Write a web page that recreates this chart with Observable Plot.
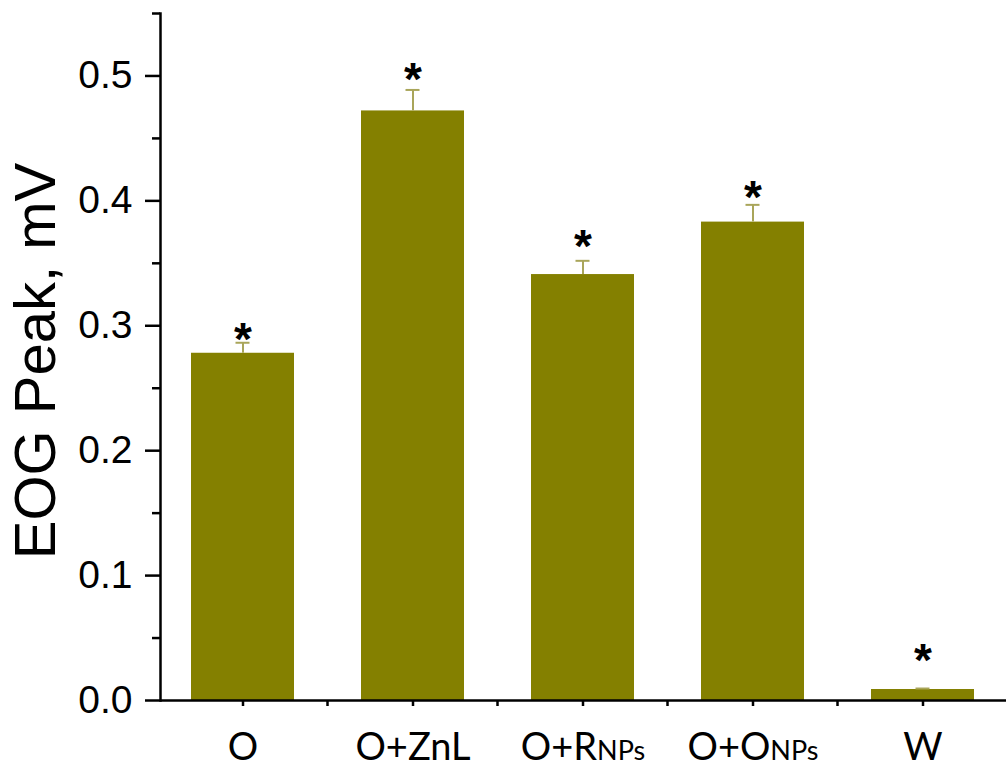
<!DOCTYPE html>
<html><head><meta charset="utf-8">
<script src="https://cdn.jsdelivr.net/npm/d3@7"></script>
<script src="https://cdn.jsdelivr.net/npm/@observablehq/plot@0.6"></script>
<style>body{margin:0;background:#fff}</style>
</head><body><div id="chart"></div>
<script>
const categories = ["O", "O+ZnL", "O+RNPs", "O+ONPs", "W"];
const labelMain = ["O", "O+ZnL", "O+R", "O+O", "W"];
const labelSmall = ["", "", "NPs", "NPs", ""];
const peak = [0.278, 0.472, 0.341, 0.383, 0.0088];
const errorTop = [0.2864, 0.4888, 0.352, 0.3968, 0.0096];
const starLevel = [0.2984, 0.5064, 0.3724, 0.4116, 0.0408];
const yTicks = [0, 0.1, 0.2, 0.3, 0.4, 0.5];
const yMinorTicks = [0.05, 0.15, 0.25, 0.35, 0.45, 0.55];
const yLabel = "EOG Peak, mV";

const rows = categories.map((c, i) => ({cat: c, value: peak[i], hi: errorTop[i], star: starLevel[i]}));

const plot = Plot.plot({
  width: 1006, height: 767,
  marginLeft: 160, marginRight: 0, marginTop: 13, marginBottom: 67,
  style: {fontFamily: "'Liberation Sans', Arial, sans-serif", background: "#fff", overflow: "visible", color: "#000"},
  x: {domain: categories, paddingInner: 0.394, paddingOuter: 0.185, label: null},
  y: {domain: [0, 0.55], label: null},
  marks: [
    Plot.barY(rows, {x: "cat", y: "value", fill: "#848000"}),
    Plot.ruleX(rows, {x: "cat", y1: "value", y2: "hi", stroke: "#a9a55a", strokeWidth: 2}),
    Plot.tickY(rows, {x: "cat", y: "hi", stroke: "#a9a55a", strokeWidth: 2, insetLeft: 44.5, insetRight: 44.5}),
    Plot.text(rows, {x: "cat", y: "star", text: () => "*", fontSize: 46, fontWeight: "bold", dy: 12, fill: "#000"}),
    Plot.axisY({ticks: yTicks, tickSize: 15, tickPadding: 13, tickFormat: d3.format(".1f"), fontSize: 39, strokeWidth: 2.5, label: null}),
    Plot.axisY({ticks: yMinorTicks, tickSize: 8, tickFormat: () => "", strokeWidth: 2.5, label: null}),
    Plot.axisX({tickSize: 6, tickPadding: 27, fontSize: 38, fontFamily: "Lato", strokeWidth: 2.5, label: null}),
    Plot.ruleY([0], {strokeWidth: 2.5}),
    Plot.frame({anchor: "left", strokeWidth: 2.5}),
    Plot.text([yLabel], {frameAnchor: "left", textAnchor: "middle", dx: -124, dy: 4, rotate: -90, fontSize: 58, fill: "#000"})
  ]
});

document.getElementById("chart").appendChild(plot);

// boundary ticks between categories on the x axis, placed through the x scale
const xs = plot.scale("x");
const ys = plot.scale("y");
const bounds = categories.slice(0, -1).map(c => xs.apply(c) + xs.bandwidth + (xs.step - xs.bandwidth) / 2);
d3.select(plot).append("g")
  .selectAll("line").data(bounds).join("line")
  .attr("x1", d => d).attr("x2", d => d)
  .attr("y1", ys.apply(0)).attr("y2", ys.apply(0) + 6)
  .attr("stroke", "#000").attr("stroke-width", 2.5);

// small "NPs" parts of the x tick labels
d3.select(plot).selectAll('g[aria-label="x-axis tick label"] text').each(function() {
  const i = categories.indexOf(this.textContent);
  if (i < 0 || !labelSmall[i]) return;
  const t = d3.select(this);
  t.text(null);
  t.append("tspan").text(labelMain[i]);
  t.append("tspan").attr("font-size", 27).text(labelSmall[i]);
});
</script>
</body></html>
